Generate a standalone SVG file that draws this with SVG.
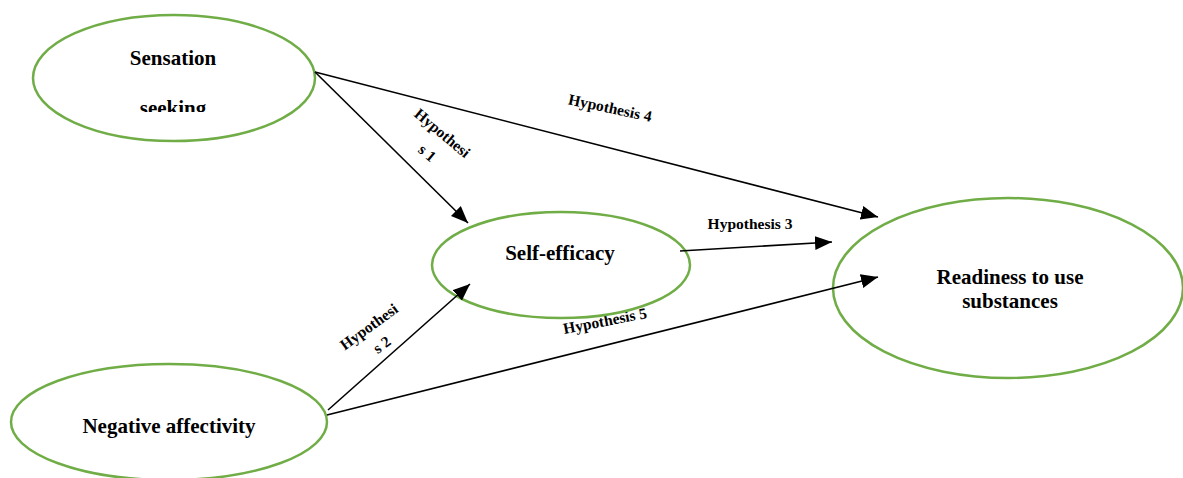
<svg xmlns="http://www.w3.org/2000/svg" width="1183" height="478" viewBox="0 0 1183 478">
<style>
.node{fill:#fff;stroke:#70ad47;stroke-width:2.5}
text{font-family:'Liberation Serif',serif;font-weight:700;fill:#000;text-anchor:middle}
.t{font-size:21px}
.h{font-size:15.5px}
.c{stroke:#000;stroke-width:1.6;fill:none;marker-end:url(#ah)}
</style>
<defs>
<marker id="ah" markerUnits="userSpaceOnUse" markerWidth="18" markerHeight="14" refX="17" refY="7" orient="auto">
<path d="M0,0 L17,7 L0,14 Z" fill="#000"/>
</marker>
<clipPath id="clipS"><rect x="0" y="0" width="400" height="112"/></clipPath>
</defs>
<rect width="1183" height="478" fill="#fff"/>
<g id="connector-labels">
<text class="h" transform="translate(439,137) rotate(40)">Hypothesi</text>
<text class="h" transform="translate(424,157) rotate(40)">s 1</text>
<text class="h" transform="translate(372,331) rotate(-36)">Hypothesi</text>
<text class="h" transform="translate(385,349) rotate(-36)">s 2</text>
<text class="h" transform="translate(609,113) rotate(12)">Hypothesis 4</text>
<text class="h" x="750" y="229">Hypothesis 3</text>
<text class="h" transform="translate(606,326) rotate(-11)">Hypothesis 5</text>
</g>
<g id="n-sensation">
<ellipse class="node" cx="174" cy="78" rx="141" ry="63"/>
<text class="t" x="173" y="65">Sensation</text>
<text class="t" x="173" y="115" clip-path="url(#clipS)">seeking</text>
</g>
<g id="n-selfefficacy">
<ellipse class="node" cx="561" cy="265" rx="129" ry="53"/>
<text class="t" x="560" y="260">Self-efficacy</text>
</g>
<g id="n-negative">
<ellipse class="node" cx="169" cy="422" rx="158" ry="58"/>
<text class="t" x="169" y="433">Negative affectivity</text>
</g>
<g id="n-readiness">
<ellipse class="node" cx="1008" cy="288" rx="175" ry="90"/>
<text class="t" x="1010" y="284">Readiness to use</text>
<text class="t" x="1010" y="308">substances</text>
</g>
<g id="connectors">
<line class="c" x1="315" y1="72" x2="468" y2="223"/>
<line class="c" x1="315" y1="72" x2="878" y2="217"/>
<line class="c" x1="680" y1="251" x2="832" y2="242"/>
<line class="c" x1="328" y1="410" x2="470" y2="284"/>
<line class="c" x1="327" y1="415" x2="878" y2="277"/>
</g>
</svg>
